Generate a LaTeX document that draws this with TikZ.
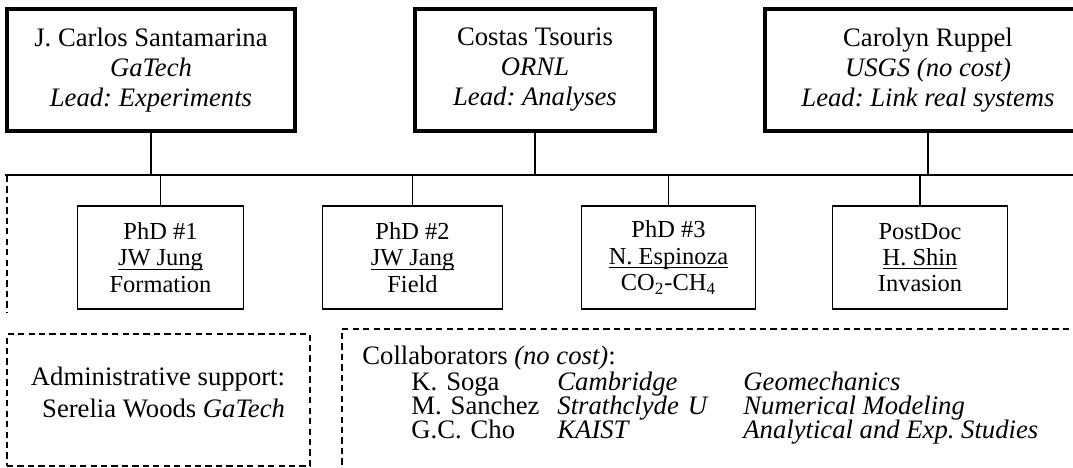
\documentclass[tikz,border=0pt]{standalone}
\usepackage{fontspec}
\setmainfont{Liberation Serif}
\usetikzlibrary{positioning,matrix,calc}
\frenchspacing

\newcommand{\uname}[1]{\underline{\smash{#1}}}

\tikzset{
  lead/.style={draw, line width=1.8pt, align=center, inner sep=0pt,
    minimum height={122*0.45pt}, font=\fontsize{12}{13.5}\selectfont},
  student/.style={draw, line width=0.75pt, align=center, inner sep=0pt,
    minimum height={103*0.45pt}, font=\fontsize{11}{11.8}\selectfont},
  link/.style={line width=0.75pt},
  dashbox/.style={line width=0.75pt, dash pattern=on 2.8pt off 1.9pt},
  plain/.style={inner sep=0pt, font=\fontsize{12}{14}\selectfont},
}

\begin{document}
\begin{tikzpicture}[x=0.45pt,y=-0.45pt]
  \useasboundingbox (0,0) rectangle (1073,468);
  \clip (0,0) rectangle (1073,468);

  % investigators
  \node[lead, minimum width={288*0.45pt}] (santa) at (151,70)
    {J. Carlos Santamarina\\\textit{GaTech}\\\textit{Lead: Experiments}};
  \node[lead, minimum width={240*0.45pt}] (tsouris) at (535,70)
    {Costas Tsouris\\\textit{ORNL}\\\textit{Lead: Analyses}};
  \node[lead, minimum width={326*0.45pt}] (ruppel) at (928,70)
    {Carolyn Ruppel\\\textit{USGS (no cost)}\\\textit{Lead: Link real systems}};

  \coordinate (busW) at (5,175);
  \coordinate (busE) at (1075,175);
  \draw[link] (busW) -- (busE);
  \foreach \n in {santa,tsouris,ruppel}
    \draw[link] (\n.south) -- (\n.south |- busW);

  % students and postdoc
  \node[student, minimum width={166*0.45pt}] (phd1) at (160.5,257.5)
    {PhD \#1\\\uname{JW Jung}\\Formation};
  \node[student, minimum width={180*0.45pt}] (phd2) at (412.5,257.5)
    {PhD \#2\\\uname{JW Jang}\\Field};
  \node[student, minimum width={174*0.45pt}] (phd3) at (668.5,257.5)
    {PhD \#3\\\uname{N. Espinoza}\\CO\textsubscript{2}-CH\textsubscript{4}};
  \node[student, minimum width={175*0.45pt}] (postdoc) at (920,257.5)
    {PostDoc\\\uname{H. Shin}\\Invasion};
  \foreach \n in {phd1,phd2,phd3,postdoc}
    \draw[link] (\n.north) -- (\n.north |- busW);

  \coordinate (grpN) at (7,176);
  \coordinate (grpS) at (7,313);
  \draw[dashbox] (grpN) -- (grpS);

  % admin
  \node[draw, dashbox, minimum width={303*0.45pt}, minimum height={132*0.45pt}] (admin) at (158.5,400) {};
  \node[plain, align=center] (adminTxt) at (158,392.5)
    {Administrative support:\\\hspace*{5pt}Serelia Woods \textit{GaTech}};

  % collaborators
  \coordinate (colSW) at (342,475);
  \coordinate (colNW) at (342,329);
  \coordinate (colNE) at (1075,329);
  \draw[dashbox] (colSW) -- (colNW) -- (colNE);
  \node[plain, anchor=base west] (colHead) at (362,364) {Collaborators \textit{(no cost)}:};
  \matrix [matrix of nodes, ampersand replacement=\&, inner sep=0pt, anchor=north west,
    row sep=1.8pt,
    nodes={anchor=base west, inner sep=0pt, text height=7pt, text depth=2pt,
      align=left, font=\fontsize{12}{12}\selectfont},
    column 1/.style={nodes={text width=65.7pt}},
    column 2/.style={nodes={text width=83.7pt}}] (collab) at (411,374.4) {
    K. Soga \& \textit{Cambridge} \& \textit{Geomechanics} \\
    M. Sanchez \& \textit{Strathclyde U} \& \textit{Numerical Modeling} \\
    G.C. Cho \& \textit{KAIST} \& \textit{Analytical and Exp. Studies} \\
  };
\end{tikzpicture}
\end{document}
